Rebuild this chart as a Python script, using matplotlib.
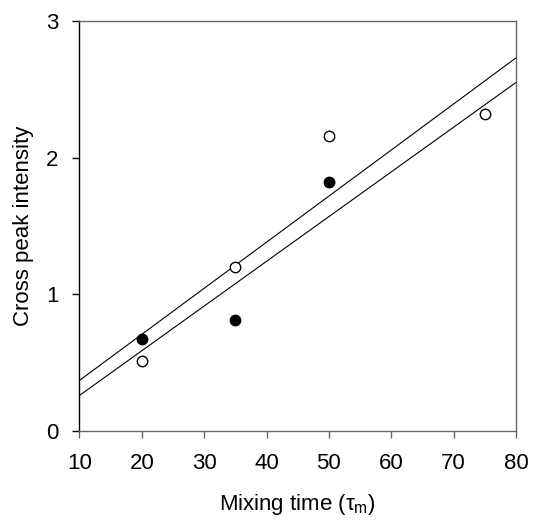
import matplotlib
matplotlib.use("Agg")
import matplotlib.pyplot as plt

plt.rcParams["font.family"] = ["Liberation Sans", "DejaVu Sans"]
plt.rcParams["mathtext.fontset"] = "custom"
plt.rcParams["mathtext.rm"] = "Liberation Sans"
plt.rcParams["mathtext.it"] = "Liberation Sans"

# filled symbols
filled_x = [20, 35, 50]
filled_y = [0.67, 0.81, 1.82]

# open symbols
open_x = [20, 35, 50, 75]
open_y = [0.515, 1.20, 2.16, 2.32]

# regression lines (endpoints at x = 10 and x = 80)
line_x = [10, 80]
upper_line_y = [0.37, 2.73]
lower_line_y = [0.26, 2.55]

fig = plt.figure(figsize=(5.33, 5.21), dpi=100)
ax = fig.add_axes([0.149, 0.1727, 0.819, 0.7870])

ax.plot(line_x, upper_line_y, color="black", linewidth=0.8)
ax.plot(line_x, lower_line_y, color="black", linewidth=0.8)

ax.plot(filled_x, filled_y, linestyle="none", marker="o", markersize=7.5,
        markerfacecolor="black", markeredgecolor="black", markeredgewidth=1, zorder=3)
ax.plot(open_x, open_y, linestyle="none", marker="o", markersize=7.5,
        markerfacecolor="white", markeredgecolor="black", markeredgewidth=1, zorder=3)

ax.set_xlim(10, 80)
ax.set_ylim(0, 3)
ax.set_xticks(range(10, 81, 10))
ax.set_yticks([0, 1, 2, 3])

for side in ["top", "right", "bottom"]:
    ax.spines[side].set_color("#666666")
ax.spines["left"].set_color("black")
for sp in ax.spines.values():
    sp.set_linewidth(1.0)

ax.tick_params(axis="both", direction="out", length=5, width=1, labelsize=16)
ax.tick_params(axis="x", color="#666666", pad=11)
ax.tick_params(axis="y", color="black", pad=10)

ax.set_xlabel(r"Mixing time ($\tau_{\mathrm{m}}$)", fontsize=16, labelpad=13)
ax.set_ylabel("Cross peak intensity", fontsize=16, labelpad=9)

fig.savefig("out.png", dpi=100)
